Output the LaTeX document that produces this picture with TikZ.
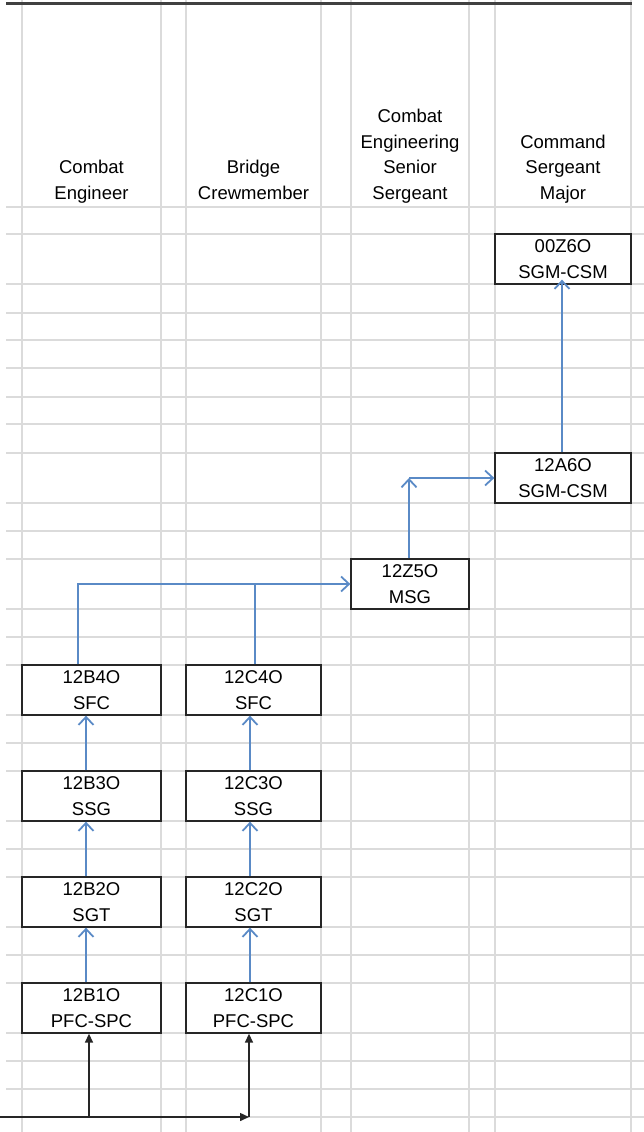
\documentclass[tikz,border=0pt]{standalone}
\usepackage{fontspec}
\setmainfont{Liberation Sans}
\usetikzlibrary{arrows.meta,calc}
\definecolor{linkblue}{HTML}{5A8AC6}
\tikzset{gridline/.style={line width=1.4pt,black!14},
         rank/.style={draw=black!85,line width=1.3pt,fill=white,inner sep=0pt,
           minimum height=50pt,align=center,font=\fontsize{18.5}{25.7}\selectfont},
         head/.style={anchor=base,inner sep=0pt,align=center,
           font=\fontsize{18.5}{25.7}\selectfont},
         promo/.style={-{Straight Barb[length=8pt,width=15pt,line width=1.8pt]},
           line width=1.8pt,linkblue},
         link/.style={line width=1.8pt,linkblue},
         feed/.style={-{Triangle[length=9pt,width=8pt]},line width=1.5pt,black!85}}
\begin{document}
\begin{tikzpicture}[x=1pt,y=-1pt]
  \useasboundingbox (0,0) rectangle (644,1132);
  % sheet grid
  \foreach \x in {22,161,186,321,351,469,495,631}
    \draw[gridline] (\x,0)--(\x,1132);
  \foreach \y in {207,234,284,313,340,368,397,424,453,503,531,559,609,637,665,
                  715,743,771,821,849,877,927,955,983,1033,1061,1089,1117}
    \draw[gridline] (6,\y)--(644,\y);
  \draw[line width=3pt,black!75] (6,4)--(632,4);
  % column heads
  \node[head] (hce) at (91.5,199.5) {Combat\\Engineer};
  \node[head] (hbc) at (253.5,199.5) {Bridge\\Crewmember};
  \node[head] (hss) at (410,199.5) {Combat\\Engineering\\Senior\\Sergeant};
  \node[head] (hcsm) at (563,199.5) {Command\\Sergeant\\Major};
  % ranks
  \foreach \n/\y/\rk in {1/1008/PFC-SPC,2/902/SGT,3/796/SSG,4/690/SFC}{
    \node[rank,minimum width=139pt] (b\n) at (91.5,\y) {12B\n O\\\rk};
    \node[rank,minimum width=135pt] (c\n) at (253.5,\y) {12C\n O\\\rk};
  }
  \node[rank,minimum width=118pt] (z5) at (410,584) {12Z5O\\MSG};
  \node[rank,minimum width=136pt] (a6) at (563,478) {12A6O\\SGM-CSM};
  \node[rank,minimum width=136pt] (z6) at (563,259) {00Z6O\\SGM-CSM};
  % progression
  \foreach \i/\j in {1/2,2/3,3/4}{
    \draw[promo] ([xshift=-5.5pt]b\i.north)--([xshift=-5.5pt]b\j.south);
    \draw[promo] ([xshift=-3.5pt]c\i.north)--([xshift=-3.5pt]c\j.south);
  }
  \draw[promo] ([xshift=-13.5pt]b4.north) |- (z5.west);
  \draw[link] ([xshift=1.5pt]c4.north)--([xshift=1.5pt]c4.north |- z5.west);
  \coordinate (bend) at ([xshift=-1pt]z5.north |- a6.west);
  \draw[promo] ([xshift=-1pt]z5.north)--(bend);
  \draw[promo] (bend)--(a6.west);
  \draw[promo,shorten >=-5pt] ([xshift=-1pt]a6.north)--([xshift=-1pt]z6.south);
  % entry
  \coordinate (src) at (0,1117);
  \coordinate (jb) at ([xshift=-2.5pt]b1.south);
  \coordinate (jc) at ([xshift=-4.5pt]c1.south);
  \draw[feed] (src)--(src -| jc);
  \draw[feed] (jb |- src)--(jb);
  \draw[feed] (jc |- src)--(jc);
\end{tikzpicture}
\end{document}
